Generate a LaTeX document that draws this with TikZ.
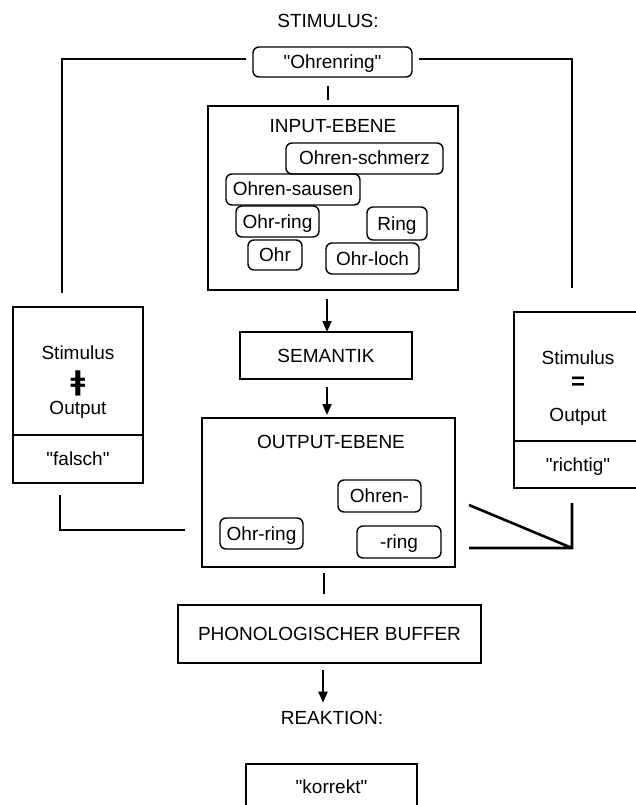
\documentclass[tikz,border=0pt]{standalone}
\usepackage{fontspec}
\setmainfont{Liberation Sans}[Ligatures=TeXOff]
\newfontfamily\symfont{DejaVu Sans}
\usetikzlibrary{arrows.meta,positioning}

\begin{document}
\begin{tikzpicture}[
    x = 1pt, y = -1pt, % pixel grid, y downwards
    > = {Triangle[length=11pt,width=9pt]}, % arrow head style
    font = \fontsize{19}{24}\selectfont,
    semithick % line style
    ]

    \tikzset{
    level/.style = {draw, line width=1.4pt, inner sep=0pt, outer sep=0pt,
        text height=14pt, text depth=1pt},
    word/.style = {draw, rounded corners=6pt, line width=1.4pt, inner sep=0pt,
        minimum height=31pt, text height=14pt, text depth=1pt},
    txt/.style = {inner sep=0pt, text height=14pt, text depth=1pt},
    link/.style = {line width=2.6pt},
    flow/.style = {->, line width=2pt}
    }

    \useasboundingbox (0,0) rectangle (635,805);

    % stimulus and input level
    \node[txt] (stimulus) at (328,21) {STIMULUS:};
    \node[word, minimum width=159pt, minimum height=30pt] (ohrenring) at (332.5,62) {"Ohrenring"};
    \node[level, minimum width=250pt, minimum height=184pt] (input) at (333,198) {};
    \node[txt] (inputtitle) at (333,126) {INPUT-EBENE};
    \node[word, minimum width=157pt] (schmerz) at (364.5,158.5) {Ohren-schmerz};
    \node[word, minimum width=134pt] (sausen) at (293,189.5) {Ohren-sausen};
    \node[word, minimum width=83pt] (ohrring) at (277.5,221.5) {Ohr-ring};
    \node[word, minimum width=60pt, minimum height=33pt] (ring) at (397,223.5) {Ring};
    \node[word, minimum width=54pt, minimum height=30pt] (ohr) at (275,255) {Ohr};
    \node[word, minimum width=93pt] (ohrloch) at (372.5,258.5) {Ohr-loch};

    % semantics and output level
    \node[level, minimum width=172pt, minimum height=47pt] (semantik) at (326,355.5) {SEMANTIK};
    \node[level, minimum width=253pt, minimum height=149pt] (output) at (328.5,492.5) {};
    \node[txt] (outputtitle) at (331,442) {OUTPUT-EBENE};
    \node[word, minimum width=83pt, minimum height=32pt] (ohren) at (379.5,496) {Ohren-};
    \node[word, minimum width=83pt] (outohrring) at (261.5,533.5) {Ohr-ring};
    \node[word, minimum width=84pt, minimum height=32pt] (outring) at (399,542) {-ring};

    % checks
    \node[level, minimum width=130pt, minimum height=128pt] (falschtop) at (78,371) {};
    \node[level, minimum width=130pt, minimum height=48pt, below=0pt of falschtop] (falsch) {"falsch"};
    \node[txt] (neqstim) at (78,353) {Stimulus};
    \node[txt] (neq) at (78,384) {\symfont\bfseries\fontsize{27}{27}\selectfont ǂ};
    \node[txt] (neqout) at (78,408) {Output};
    \node[level, minimum width=128pt, minimum height=129pt] (richtigtop) at (578,376.5) {};
    \node[level, minimum width=128pt, minimum height=47pt, below=0pt of richtigtop] (richtig) {"richtig"};
    \node[txt] (eqstim) at (578,358) {Stimulus};
    \node[txt] (eq) at (578,383) {\bfseries\fontsize{24}{24}\selectfont =};
    \node[txt] (eqout) at (578,415) {Output};

    % buffer and reaction
    \node[level, minimum width=303pt, minimum height=58pt] (buffer) at (329.5,634) {PHONOLOGISCHER BUFFER};
    \node[txt] (reaktion) at (332,718) {REAKTION:};
    \node[level, minimum width=171pt, minimum height=46pt] (korrekt) at (331.5,787) {"korrekt"};

    \coordinate (stimleft) at (62,293);
    \coordinate (stimright) at (572,288);
    \coordinate (falschout) at (60,495);
    \coordinate (outleft) at (185,530);
    \coordinate (richtigout) at (572,503);
    \coordinate (corner) at (572,548);
    \coordinate (outright) at (469,548);
    \coordinate (outslant) at (469,505);

    \draw[link] ([xshift=-6pt,yshift=3pt]ohrenring.west) -| (stimleft);
    \draw[link] ([xshift=6pt,yshift=3pt]ohrenring.east) -| (stimright);
    \draw[link, shorten <=8pt, shorten >=6pt] ([xshift=-4.5pt]ohrenring.south) -- ([xshift=-5pt]input.north);
    \draw[flow, shorten <=9pt] ([xshift=-6pt]input.south) -- ([xshift=1pt]semantik.north);
    \draw[flow, shorten <=8pt, shorten >=3pt] ([xshift=1pt]semantik.south) -- ([xshift=-1.5pt]output.north);
    \draw[link, shorten <=6pt, shorten >=11pt] ([xshift=-4.5pt]output.south) -- ([xshift=-5.5pt]buffer.north);
    \draw[flow, shorten <=7pt, shorten >=7.5pt] ([xshift=-6.5pt]buffer.south) -- ([xshift=-9pt]reaktion.north);
    \draw[link] (falschout) |- (outleft);
    \draw[link] (richtigout) -- (corner) -- (outright) (corner) -- (outslant);
\end{tikzpicture}
\end{document}
